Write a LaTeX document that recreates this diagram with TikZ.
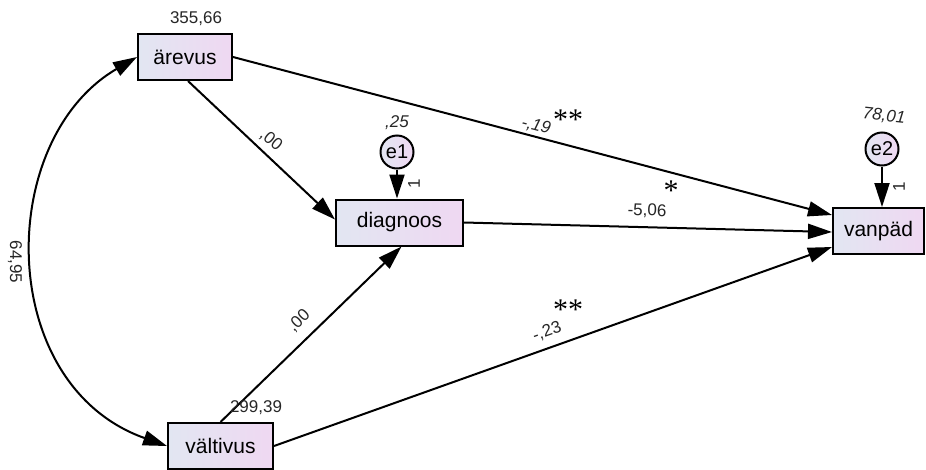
\documentclass[tikz,border=0pt]{standalone}
\usepackage{fontspec}
\setmainfont{Liberation Sans}
\newfontfamily\starfont{Liberation Serif}
\usetikzlibrary{arrows.meta,calc}
\definecolor{boxL}{HTML}{E2E6F2}
\definecolor{boxR}{HTML}{EFD8F2}
\tikzset{
  var/.style={draw=black, line width=2pt, left color=boxL, right color=boxR,
    minimum height=46pt, inner sep=0pt, font=\fontsize{21}{24}\selectfont},
  err/.style={circle, draw=black, line width=2pt, left color=boxL, right color=boxR,
    minimum size=33pt, inner sep=0pt, font=\fontsize{20}{22}\selectfont},
  tip/.tip={Triangle[length=24pt,width=15pt]},
  regpath/.style={line width=2pt, -tip},
  covpath/.style={line width=2pt, tip-tip},
  lbl/.style={font=\fontsize{17}{19}\selectfont, inner sep=0pt, text=black!85},
  ilbl/.style={lbl, font=\fontsize{17}{19}\selectfont\itshape},
  stars/.style={font=\starfont\fontsize{30}{30}\selectfont, inner sep=0pt}
}
\begin{document}
\begin{tikzpicture}[x=1pt, y=-1pt]
\useasboundingbox (0,0) rectangle (926,469);

% observed variables
\node[var, minimum width=94pt]  (arevus)   at (185,57)    {ärevus};
\node[var, minimum width=127pt] (diagnoos) at (399.5,222.5) {diagnoos};
\node[var, minimum width=91pt]  (vanpad)   at (878.5,231) {vanpäd};
\node[var, minimum width=105pt] (valtivus) at (220.5,446) {vältivus};

% error terms
\node[err] (e1) at (397,152) {e1};
\node[err] (e2) at (882,149) {e2};

% regression paths
\draw[regpath] ([xshift=3pt]arevus.south) -- ([yshift=3pt]diagnoos.west);
\draw[regpath] (valtivus.north) -- ([xshift=2pt]diagnoos.south);
\draw[regpath] (arevus.east) -- ([yshift=16pt]vanpad.west);
\draw[regpath] (diagnoos.east) -- ([yshift=-1pt]vanpad.west);
\draw[regpath] (valtivus.east) -- ([yshift=-16pt]vanpad.west);
\draw[regpath] (e1.south) -- (e1.south |- diagnoos.north);
\draw[regpath] (e2.south) -- (e2.south |- vanpad.north);

% covariance
\draw[covpath] (arevus.west) .. controls (-5,140) and (-5,385) .. (valtivus.west);

% estimates
\node[lbl] (varA) at (196,19) {355,66};
\node[lbl] (varV) at (256,408) {299,39};
\node[ilbl] (varE1) at (397,123) {,25};
\node[ilbl, rotate=-6] (varE2) at (884,116) {78,01};
\node[lbl, rotate=90] (oneA) at (414,184) {1};
\node[lbl, rotate=90] (oneB) at (899,187) {1};
\node[lbl, rotate=-90] (cov) at (15,262) {64,95};
\node[lbl, rotate=-39.5] (bA) at (271,140) {,00};
\node[lbl, rotate=44] (bV) at (299,321) {,00};
\node[ilbl, rotate=-14.5] (bAV) at (536,126) {-,19};
\node[stars] (sAV) at (568,120) {**};
\node[lbl, rotate=-1.5] (bDV) at (647,211) {-5,06};
\node[stars] (sDV) at (671,191) {*};
\node[lbl, rotate=19.5] (bVV) at (547,332) {-,23};
\node[stars] (sVV) at (568,310) {**};
\end{tikzpicture}
\end{document}
